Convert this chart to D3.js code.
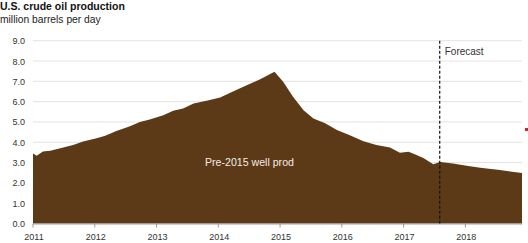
<!DOCTYPE html>
<html>
<head>
    <title>U.S. crude oil production</title>
    <script src="https://d3js.org/d3.v7.min.js"></script>
    <style>
        body { margin: 0; background: #fff; }
        text { font-family: "Liberation Sans", Arial, sans-serif; }
        .title { font-size: 10.5px; font-weight: bold; fill: #111; }
        .subtitle { font-size: 10.3px; fill: #222; }
        .tick-label { font-size: 9px; fill: #333; }
        .grid-line { stroke: #e3e3e3; stroke-width: 1; }
        .area { fill: #5d3a17; }
        .forecast-line { stroke: #111; stroke-width: 1.2; stroke-dasharray: 3,2; }
    </style>
</head>
<body>
<script>

    // data (decimal year, million barrels per day)
    var years = [2011, 2011.06, 2011.16, 2011.28, 2011.49, 2011.65, 2011.81, 2012.03, 2012.17, 2012.35,
        2012.57, 2012.73, 2012.89, 2013.11, 2013.27, 2013.43, 2013.6, 2013.81, 2014.03, 2014.22,
        2014.46, 2014.67, 2014.91, 2015.05, 2015.21, 2015.38, 2015.54, 2015.73, 2015.92, 2016.13,
        2016.35, 2016.56, 2016.78, 2016.94, 2017.08, 2017.18, 2017.32, 2017.48, 2017.59, 2017.8,
        2018.02, 2018.24, 2018.56, 2018.917];
    var production = [3.45, 3.33, 3.55, 3.58, 3.74, 3.87, 4.04, 4.2, 4.32, 4.56,
        4.79, 5.0, 5.12, 5.33, 5.55, 5.66, 5.91, 6.04, 6.2, 6.48,
        6.81, 7.09, 7.47, 6.98, 6.24, 5.58, 5.17, 4.93, 4.6, 4.35,
        4.05, 3.86, 3.74, 3.48, 3.53, 3.41, 3.23, 2.92, 3.03, 2.96,
        2.84, 2.74, 2.63, 2.49];
    var yTicks = [0, 1, 2, 3, 4, 5, 6, 7, 8, 9];
    var xTicks = [2011, 2012, 2013, 2014, 2015, 2016, 2017, 2018];
    var forecastStart = 2017.585;

    var width = 528, height = 243;
    var plotLeft = 33, plotRight = 522, plotTop = 40.7, plotBottom = 223.5;

    var svg = d3.select("body").append("svg")
        .attr("width", width)
        .attr("height", height);

    var x = d3.scaleLinear().domain([2011, 2018.917]).range([plotLeft, plotRight]);
    var y = d3.scaleLinear().domain([0, 9]).range([plotBottom, plotTop]);

    var data = years.map(function (d, i) { return { year: d, value: production[i] }; });

    svg.append("text").attr("class", "title").attr("x", 0).attr("y", 10)
        .text("U.S. crude oil production");
    svg.append("text").attr("class", "subtitle").attr("x", 0).attr("y", 23)
        .text("million barrels per day");

    // horizontal grid
    svg.selectAll(".grid-line")
        .data(yTicks.slice(1)).enter().append("line")
        .attr("class", "grid-line")
        .attr("x1", plotLeft).attr("x2", plotRight)
        .attr("y1", function (d) { return y(d); })
        .attr("y2", function (d) { return y(d); });

    var area = d3.area()
        .x(function (d) { return x(d.year); })
        .y0(y(0))
        .y1(function (d) { return y(d.value); });

    svg.append("path").datum(data).attr("class", "area").attr("d", area);

    // y labels
    svg.selectAll(".y-label")
        .data(yTicks).enter().append("text")
        .attr("class", "tick-label")
        .attr("text-anchor", "end")
        .attr("x", 25)
        .attr("y", function (d) { return y(d) + 3.5; })
        .text(function (d) { return d3.format(".1f")(d); });

    // x axis
    svg.append("line")
        .attr("x1", plotLeft).attr("x2", plotRight)
        .attr("y1", plotBottom + 0.5).attr("y2", plotBottom + 0.5)
        .attr("stroke", "#999").attr("stroke-width", 1);

    svg.selectAll(".x-tick")
        .data(xTicks).enter().append("line")
        .attr("x1", function (d) { return x(d); })
        .attr("x2", function (d) { return x(d); })
        .attr("y1", plotBottom).attr("y2", plotBottom + 4)
        .attr("stroke", "#999");

    svg.selectAll(".x-label")
        .data(xTicks).enter().append("text")
        .attr("class", "tick-label")
        .attr("text-anchor", "middle")
        .attr("x", function (d) { return x(d) + 1; })
        .attr("y", 240)
        .text(function (d) { return d; });

    // forecast divider
    svg.append("line").attr("class", "forecast-line")
        .attr("x1", x(forecastStart)).attr("x2", x(forecastStart))
        .attr("y1", plotTop).attr("y2", plotBottom);

    svg.append("text").attr("class", "tick-label")
        .style("font-size", "10px")
        .attr("x", x(forecastStart) + 5).attr("y", 55)
        .text("Forecast");

    svg.append("text")
        .attr("x", 205).attr("y", 166)
        .style("font-size", "10.6px").style("fill", "#f3ece4")
        .text("Pre-2015 well prod");

    // small red mark at right edge
    svg.append("rect")
        .attr("x", 525).attr("y", 128).attr("width", 3).attr("height", 3)
        .attr("fill", "#c1272d");

</script>
</body>
</html>
